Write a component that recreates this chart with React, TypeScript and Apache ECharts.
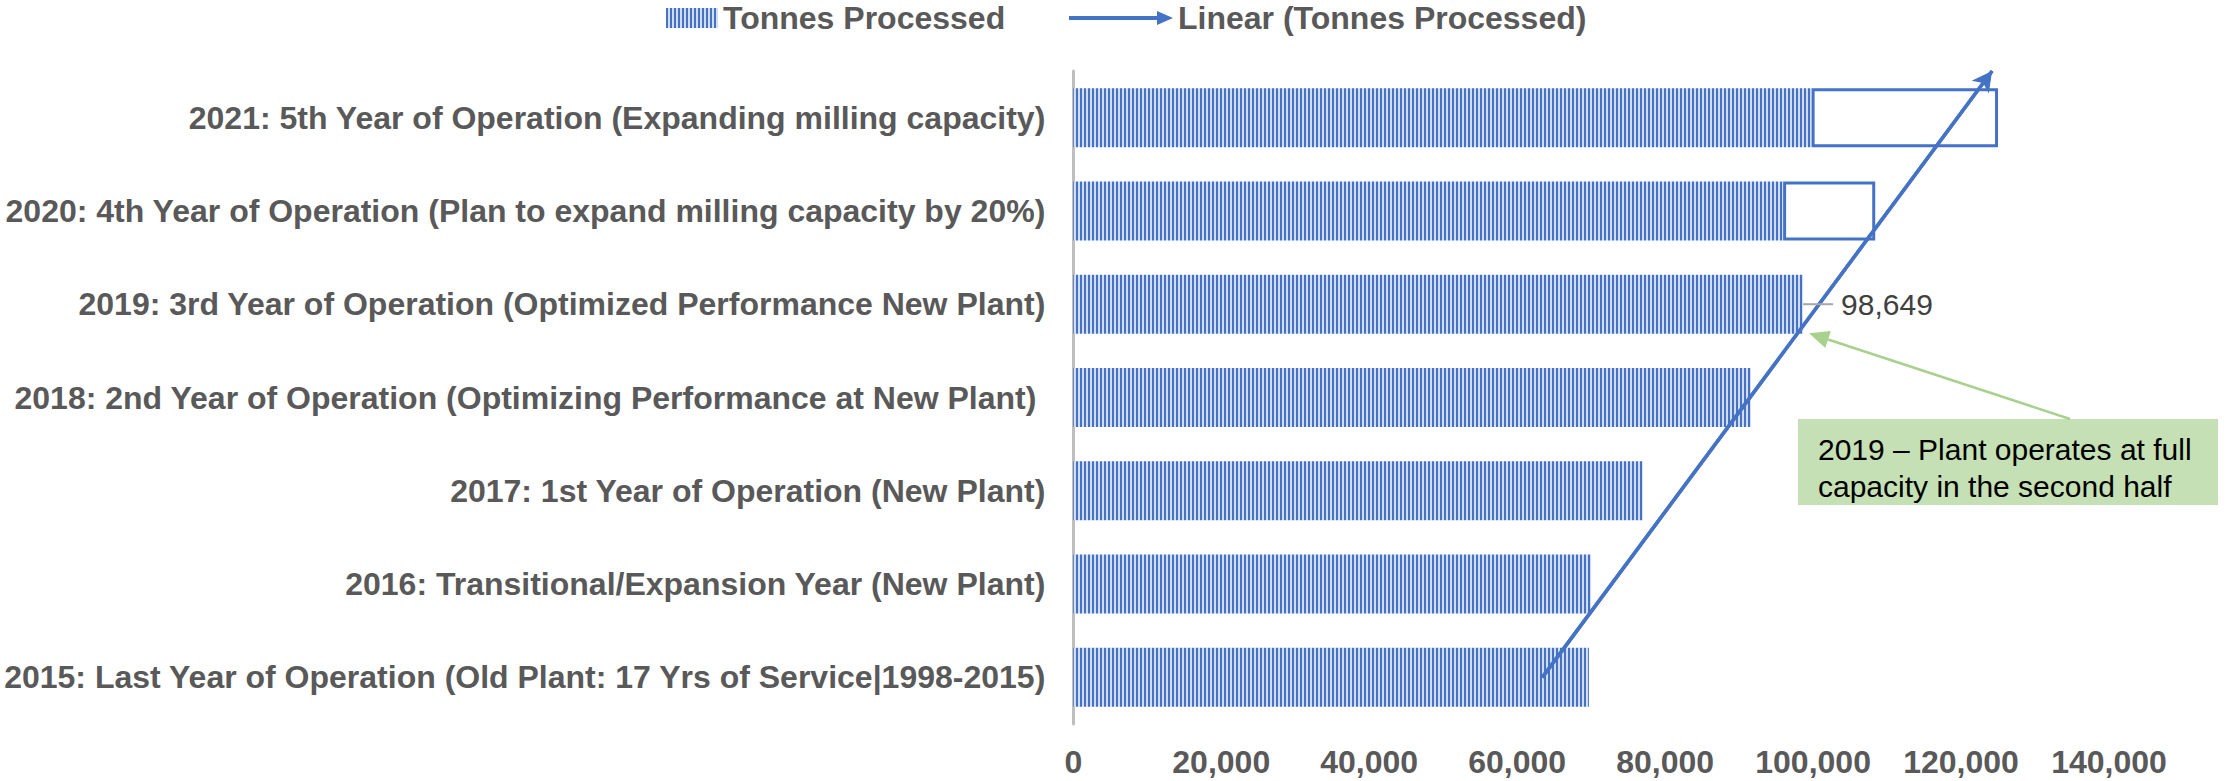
import React, { useEffect, useRef } from "react";
import * as echarts from "echarts";

const categories = [
  "2015: Last Year of Operation (Old Plant: 17 Yrs of Service|1998-2015)",
  "2016: Transitional/Expansion Year (New Plant)",
  "2017: 1st Year of Operation (New Plant)",
  "2018: 2nd Year of Operation (Optimizing Performance at New Plant) ",
  "2019: 3rd Year of Operation (Optimized Performance New Plant)",
  "2020: 4th Year of Operation (Plan to expand milling capacity by 20%)",
  "2021: 5th Year of Operation (Expanding milling capacity)",
];
const tonnesProcessed = [69700, 70000, 77000, 91600, 98649, 95950, 99800];
const plannedExpansion = [null, null, null, null, null, 12450, 25200];
const trendValues = [63400, 124200];
const trendPositions = [0, 6.5];
const labelledIndex = 4;
const annotationLines = ["2019 – Plant operates at full", "capacity in the second half"];

const FONT = "'Liberation Sans', Arial, sans-serif";
const BLUE = "#4472C4";
const GREY_TEXT = "#595959";

function makeHatch(): HTMLCanvasElement {
  const c = document.createElement("canvas");
  c.width = 4;
  c.height = 4;
  const ctx = c.getContext("2d")!;
  ctx.fillStyle = "#D3DDF1";
  ctx.fillRect(0, 0, 4, 4);
  ctx.fillStyle = BLUE;
  ctx.fillRect(0, 0, 2, 4);
  return c;
}

export default function App() {
  const ref = useRef<HTMLDivElement>(null);
  useEffect(() => {
    if (!ref.current) return;
    const chart = echarts.init(ref.current, undefined, { renderer: "svg" });
    const hatch = { image: makeHatch(), repeat: "repeat" } as any;
    const legendText = { fontSize: 32, fontWeight: "bold", color: GREY_TEXT, fontFamily: FONT };
    const option: any = {
      animation: false,
      backgroundColor: "#ffffff",
      legend: [
        {
          left: 661,
          top: -3,
          itemWidth: 52,
          itemHeight: 20,
          textStyle: legendText,
          data: [{ name: "Tonnes Processed", icon: "rect" }],
        },
        {
          left: 1064,
          top: -3,
          itemWidth: 104,
          itemHeight: 20,
          textStyle: legendText,
          data: [
            {
              name: "Linear (Tonnes Processed)",
              icon: "path://M0,8 L88,8 L88,3 L104,10 L88,17 L88,12 L0,12 Z",
            },
          ],
        },
      ],
      grid: { left: 1073, right: 130, top: 71, bottom: 57, containLabel: false },
      xAxis: {
        type: "value",
        min: 0,
        max: 140000,
        interval: 20000,
        axisLine: { show: false },
        axisTick: { show: false },
        splitLine: { show: false },
        axisLabel: {
          margin: 22,
          fontSize: 32,
          fontWeight: "bold",
          color: GREY_TEXT,
          fontFamily: FONT,
          formatter: (v: number) => v.toLocaleString("en-US"),
        },
      },
      yAxis: [
        {
          type: "category",
          data: categories,
          axisTick: { show: false },
          axisLine: { show: true, lineStyle: { color: "#BFBFBF", width: 3 } },
          axisLabel: {
            margin: 28,
            fontSize: 32,
            fontWeight: "bold",
            color: GREY_TEXT,
            fontFamily: FONT,
          },
        },
        { type: "value", min: -0.5, max: 6.5, show: false },
      ],
      series: [
        {
          name: "Tonnes Processed",
          type: "bar",
          stack: "total",
          barWidth: 59,
          itemStyle: { color: hatch },
          data: tonnesProcessed.map((v, i) =>
            i === labelledIndex
              ? {
                  value: v,
                  label: {
                    show: true,
                    position: "right",
                    distance: 38,
                    fontSize: 30,
                    color: "#404040",
                    fontFamily: FONT,
                    formatter: (p: any) => Number(p.value).toLocaleString("en-US"),
                  },
                }
              : v
          ),
        },
        {
          name: "Planned expansion",
          type: "bar",
          stack: "total",
          barWidth: 59,
          itemStyle: { color: "#ffffff", borderColor: BLUE, borderWidth: 3 },
          data: plannedExpansion,
        },
        {
          name: "Linear (Tonnes Processed)",
          type: "line",
          yAxisIndex: 1,
          showSymbol: false,
          symbol: "none",
          z: 5,
          lineStyle: { color: BLUE, width: 3.5 },
          itemStyle: { color: BLUE },
          data: trendValues.map((v, i) => [v, trendPositions[i]]),
          markLine: {
            silent: true,
            symbol: ["none", "arrow"],
            symbolSize: [16, 20],
            label: { show: false },
            lineStyle: { color: BLUE, width: 3.5, type: "solid" },
            data: [
              [
                { coord: [trendValues[0], trendPositions[0]] },
                { coord: [trendValues[1], trendPositions[1]] },
              ],
            ],
          },
        },
      ],
    };
    chart.setOption(option);

    const p = chart.convertToPixel({ xAxisIndex: 0, yAxisIndex: 0 }, [
      tonnesProcessed[labelledIndex],
      labelledIndex,
    ]) as number[];
    const bx = 1798,
      by = 419,
      bw = 420,
      bh = 86;
    const tip = [p[0] + 6, p[1] + 29];
    const start = [2070, by];
    const dx = tip[0] - start[0],
      dy = tip[1] - start[1];
    const len = Math.hypot(dx, dy);
    const ux = dx / len,
      uy = dy / len;
    const hl = 20,
      hw = 9;
    const base = [tip[0] - ux * hl, tip[1] - uy * hl];
    const nx = -uy,
      ny = ux;
    chart.setOption({
      graphic: [
        {
          type: "line",
          z: 20,
          shape: { x1: p[0], y1: p[1], x2: p[0] + 30, y2: p[1] },
          style: { stroke: "#A6A6A6", lineWidth: 2 },
        },
        {
          type: "rect",
          z: 20,
          shape: { x: bx, y: by, width: bw, height: bh },
          style: { fill: "#C5E0B4" },
        },
        {
          type: "text",
          z: 21,
          x: bx + 20,
          y: by + 12,
          style: {
            text: annotationLines.join("\n"),
            font: `30px ${FONT}`,
            fill: "#000000",
            lineHeight: 37,
            verticalAlign: "top",
          },
        },
        {
          type: "line",
          z: 20,
          shape: { x1: start[0], y1: start[1], x2: base[0], y2: base[1] },
          style: { stroke: "#A9D18E", lineWidth: 2.5 },
        },
        {
          type: "polygon",
          z: 20,
          shape: {
            points: [
              tip,
              [base[0] + nx * hw, base[1] + ny * hw],
              [base[0] - nx * hw, base[1] - ny * hw],
            ],
          },
          style: { fill: "#A9D18E" },
        },
      ],
    });
    return () => chart.dispose();
  }, []);
  return (
    <div
      ref={ref}
      style={{ position: "absolute", left: 0, top: 0, width: 2239, height: 781 }}
    />
  );
}
